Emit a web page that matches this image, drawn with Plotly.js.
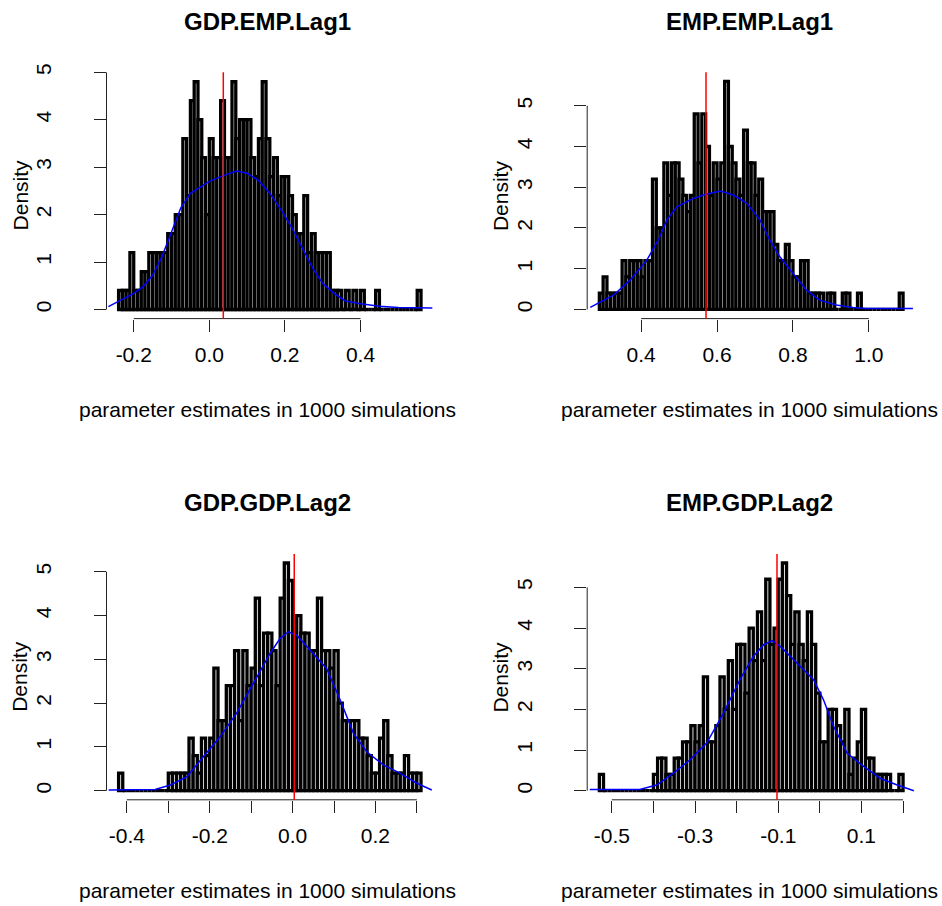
<!DOCTYPE html>
<html><head><meta charset="utf-8">
<script src="https://cdn.plot.ly/plotly-3.0.1.min.js"></script>
<style>html,body{margin:0;padding:0;background:#fff}#chart{width:942px;height:906px}</style>
</head><body><div id="chart"></div>
<script>
// ---------- data ----------
const panelTitles = ["GDP.EMP.Lag1", "EMP.EMP.Lag1", "GDP.GDP.Lag2", "EMP.GDP.Lag2"];
const xAxisLabel = "parameter estimates in 1000 simulations";
const yAxisLabel = "Density";
const binWidth = 0.01;
const breakStart = [-0.24, 0.29, -0.42, -0.53];

const hist1 = [0.4,0.4,0.4,1.2,0.4,0.4,0.8,0.8,1.2,1.2,
  1.2,1.2,1.2,1.6,1.6,2.0,2.0,3.6,2.4,4.4,
  4.8,4.0,3.2,2.0,3.6,3.2,3.2,4.4,3.2,3.2,
  4.8,3.6,4.0,4.0,4.0,3.2,2.8,3.6,4.8,3.6,
  2.8,3.2,2.4,2.8,2.8,2.4,2.0,1.6,1.6,2.4,
  1.2,1.6,1.2,1.2,1.2,1.2,0.4,0.4,0.4,0,
  0.4,0,0.4,0,0.4,0,0,0,0.4,0,
  0,0,0,0,0,0,0,0,0,0.4];
const hist2 = [0.4,0.8,0.4,0.4,0.4,0.4,1.2,0.8,1.2,1.2,
  1.2,0.8,1.2,1.2,3.2,2.0,2.0,3.6,2.8,3.6,
  3.6,3.2,2.8,2.4,2.8,4.8,3.6,4.8,4.0,2.8,
  3.6,3.2,3.6,5.6,4.0,3.6,3.2,2.8,4.4,3.6,
  3.6,2.8,3.2,2.4,2.4,2.4,1.6,1.2,1.2,1.6,
  1.2,0.8,0.8,1.2,1.2,0.4,0.4,0.4,0.4,0,
  0.4,0.4,0,0,0.4,0.4,0,0,0.4,0,
  0,0,0,0,0,0,0,0,0,0.4];
const hist3 = [0.4,0,0,0,0,0,0,0,0,0,
  0,0,0.4,0.4,0.4,0.4,0.4,1.2,0.8,0.4,
  1.2,0.8,1.2,2.8,1.6,1.6,2.4,2.4,3.2,1.6,
  3.2,2.4,2.8,4.4,2.4,3.6,3.6,3.2,2.4,4.4,
  5.2,4.8,4.0,4.0,3.6,3.6,3.2,3.2,4.4,3.2,
  3.2,2.8,3.2,2.0,1.6,1.6,1.6,1.6,1.2,1.2,
  0.8,0.4,0.4,1.2,1.6,0.8,0.4,0.4,0.4,0.8,
  0.4,0.4,0.4];
const hist4 = [0.4,0,0,0,0,0,0,0,0,0,
  0,0,0,0.4,0.8,0.8,0.4,0.4,0.8,0.8,
  1.2,1.2,1.6,1.2,1.6,2.8,1.2,1.2,1.6,2.8,
  2.0,3.2,2.0,3.6,3.6,2.4,4.0,3.2,4.4,3.2,
  5.2,3.6,4.0,5.2,5.6,4.8,3.6,4.4,3.6,3.2,
  4.4,3.6,2.4,1.2,1.2,2.0,2.0,1.6,1.2,2.0,
  0.4,0.8,1.2,2.0,0.8,0.8,0.4,0.4,0.4,0.4,
  0,0,0.4];

const kdeX1 = [-0.267,-0.24,-0.2,-0.175,-0.15,-0.125,-0.1,-0.075,-0.05,-0.02,0.0,0.03,0.055,0.072,0.1,0.13,0.16,0.19,0.22,0.25,0.275,0.3,0.33,0.36,0.4,0.45,0.5,0.59];
const kdeY1 = [0.06,0.17,0.34,0.48,0.72,1.12,1.65,2.15,2.45,2.6,2.7,2.8,2.87,2.92,2.87,2.72,2.45,2.1,1.7,1.22,0.85,0.55,0.34,0.18,0.12,0.07,0.04,0.03];
const kdeX2 = [0.266,0.327,0.371,0.415,0.445,0.468,0.494,0.529,0.564,0.608,0.643,0.678,0.713,0.739,0.765,0.80,0.835,0.870,0.914,0.958,0.993,1.116];
const kdeY2 = [0.05,0.35,0.72,1.21,1.70,2.2,2.52,2.69,2.81,2.91,2.81,2.61,2.2,1.70,1.30,0.89,0.48,0.23,0.11,0.05,0.025,0.025];
const kdeX3 = [-0.444,-0.332,-0.295,-0.255,-0.215,-0.175,-0.135,-0.094,-0.054,-0.030,-0.010,0.010,0.042,0.082,0.115,0.147,0.179,0.219,0.259,0.30,0.336];
const kdeY3 = [0.015,0.03,0.13,0.32,0.78,1.23,1.77,2.45,3.14,3.48,3.63,3.55,3.21,2.79,2.07,1.31,0.89,0.59,0.40,0.17,0.015];
const kdeX4 = [-0.553,-0.433,-0.392,-0.352,-0.312,-0.272,-0.232,-0.192,-0.160,-0.135,-0.115,-0.095,-0.055,-0.015,0.009,0.033,0.066,0.106,0.146,0.186,0.226];
const kdeY4 = [0.03,0.03,0.14,0.43,0.76,1.17,1.90,2.73,3.30,3.59,3.69,3.55,3.14,2.73,2.23,1.58,0.92,0.59,0.30,0.14,0.0];

const trueValues = [0.037, 0.571, 0.004, -0.103];

const xTickVals = [[-0.2,0,0.2,0.4],[0.4,0.6,0.8,1.0],[-0.4,-0.3,-0.2,-0.1,0,0.1,0.2,0.3],[-0.5,-0.4,-0.3,-0.2,-0.1,0,0.1,0.2]];
const xTickText = [["-0.2","0.0","0.2","0.4"],["0.4","0.6","0.8","1.0"],["-0.4","","-0.2","","0.0","","0.2",""],["-0.5","","-0.3","","-0.1","","0.1",""]];
const yTickVals = [0,1,2,3,4,5];
const yTickText = ["0","1","2","3","4","5"];

// ---------- layout geometry (pixels) ----------
const W = 942, H = 906;
const colPx = [[106.5, 433.1], [587.2, 915.2]];
const rowPx = [[72.2, 318.6], [553.9, 799.8]];
const FONT = 'Liberation Sans, Arial, sans-serif';

const hists = [hist1, hist2, hist3, hist4];
const kdes = [[kdeX1, kdeY1], [kdeX2, kdeY2], [kdeX3, kdeY3], [kdeX4, kdeY4]];

const data = [];
const layout = {
  width: W, height: H, margin: {l:0, r:0, t:0, b:0},
  paper_bgcolor: '#fff', plot_bgcolor: '#fff', showlegend: false,
  bargap: 0, barmode: 'overlay', shapes: [], annotations: []
};

for (let p = 0; p < 4; p++) {
  const col = p % 2, row = Math.floor(p / 2);
  const sfx = p === 0 ? '' : String(p + 1);
  const xr = 'x' + sfx, yr = 'y' + sfx;
  const h = hists[p];
  const lo = breakStart[p], hi = breakStart[p] + h.length * binWidth;
  const span = hi - lo;
  const ymax = Math.max(...h);
  const centers = h.map((_, i) => breakStart[p] + (i + 0.5) * binWidth);

  data.push({type: 'bar', x: centers, y: h, width: binWidth, xaxis: xr, yaxis: yr,
    marker: {color: '#fff', line: {color: '#000', width: 3.3}}, hoverinfo: 'skip'});
  data.push({type: 'scatter', mode: 'lines', x: kdes[p][0], y: kdes[p][1], xaxis: xr, yaxis: yr,
    line: {color: '#0000ff', width: 1.5}, hoverinfo: 'skip'});

  const dx = [colPx[col][0] / W, colPx[col][1] / W];
  const dy = [1 - rowPx[row][1] / H, 1 - rowPx[row][0] / H];
  const yTop = Math.max(1.04 * ymax, yTickVals[yTickVals.length - 1] + 0.001);
  layout['xaxis' + sfx] = {
    domain: dx, anchor: yr, range: [lo - 0.04 * span, hi + 0.04 * span],
    tickmode: 'array', tickvals: xTickVals[p], ticktext: xTickText[p],
    ticks: 'outside', ticklen: 12, tickwidth: 1, tickcolor: '#222',
    showline: false, showgrid: false, zeroline: false, fixedrange: true,
    tickfont: {family: FONT, size: 21, color: '#000'}, ticklabelstandoff: 5
  };
  layout['yaxis' + sfx] = {
    domain: dy, anchor: xr, range: [-0.04 * ymax, yTop],
    tickmode: 'array', tickvals: yTickVals, ticktext: yTickText, tickangle: -90,
    ticks: 'outside', ticklen: 12, tickwidth: 1, tickcolor: '#222',
    showline: false, showgrid: false, zeroline: false, fixedrange: true,
    tickfont: {family: FONT, size: 21, color: '#000'}, ticklabelstandoff: 34
  };
  const xt = xTickVals[p];
  layout.shapes.push({type: 'line', xref: xr, yref: yr + ' domain', x0: xt[0], x1: xt[xt.length - 1], y0: 0, y1: 0,
    line: {color: '#222', width: 1}});
  layout.shapes.push({type: 'line', xref: xr + ' domain', yref: yr, x0: 0, x1: 0, y0: yTickVals[0], y1: yTickVals[yTickVals.length - 1],
    line: {color: '#222', width: 1}});
  layout.shapes.push({type: 'line', xref: xr, yref: yr + ' domain', x0: trueValues[p], x1: trueValues[p], y0: 0, y1: 1,
    line: {color: '#ff0000', width: 1.5}, layer: 'above'});

  const cx = (colPx[col][0] + colPx[col][1]) / 2;
  layout.annotations.push({text: '<b>' + panelTitles[p] + '</b>', xref: 'paper', yref: 'paper',
    x: (cx - 2) / W, y: 1 - (rowPx[row][0] - 51) / H, xanchor: 'center', yanchor: 'middle', showarrow: false,
    font: {family: FONT, size: 24, color: '#000'}});
  layout.annotations.push({text: xAxisLabel, xref: 'paper', yref: 'paper',
    x: (cx - 2) / W, y: 1 - (rowPx[row][1] + 91) / H, xanchor: 'center', yanchor: 'middle', showarrow: false,
    font: {family: FONT, size: 21, color: '#000'}});
  layout.annotations.push({text: yAxisLabel, xref: 'paper', yref: 'paper', textangle: -90,
    x: (colPx[col][0] - 86.5) / W, y: 1 - ((rowPx[row][0] + rowPx[row][1]) / 2 - 0) / H, xanchor: 'center', yanchor: 'middle', showarrow: false,
    font: {family: FONT, size: 21, color: '#000'}});
}

Plotly.newPlot('chart', data, layout, {staticPlot: true, displayModeBar: false});
</script>
</body></html>
